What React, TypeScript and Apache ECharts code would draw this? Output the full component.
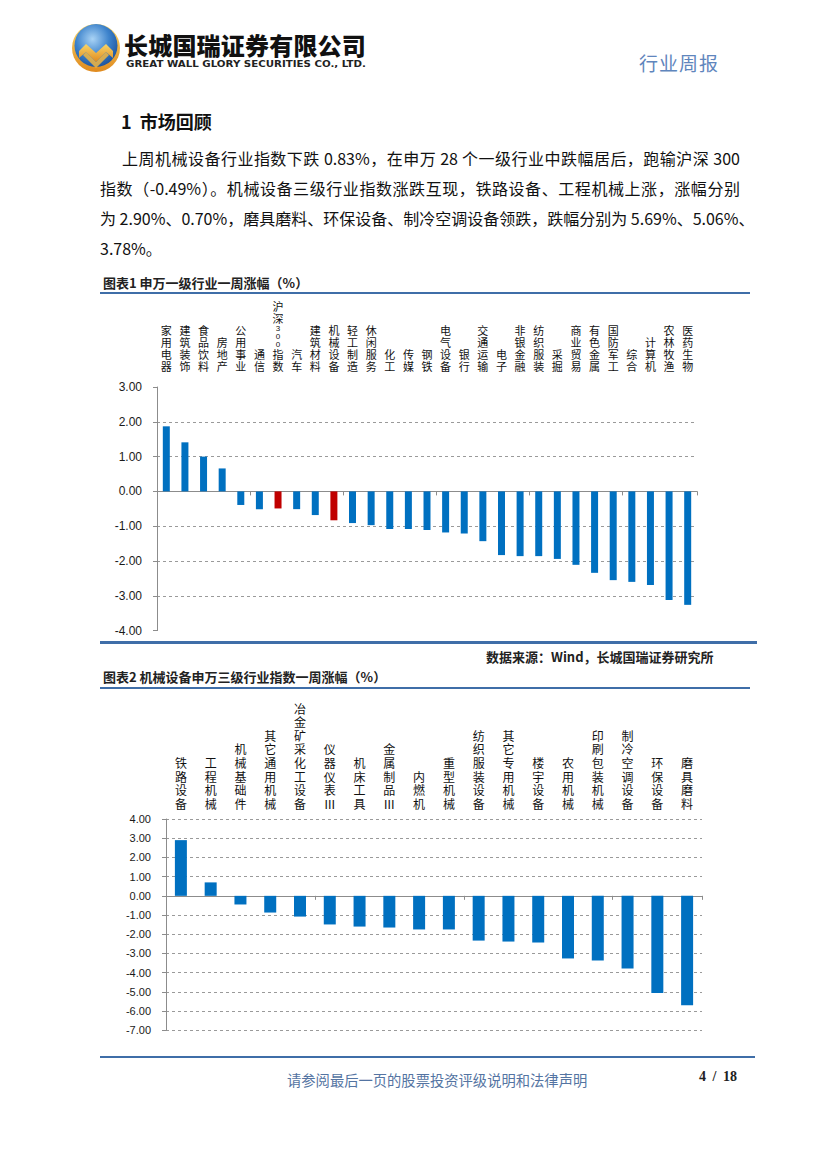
import React, { useEffect, useRef } from 'react';
import * as echarts from 'echarts';

// ---- Data: chart 1 (申万一级行业一周涨幅 %) ----
const industryNames = [
  '家用电器', '建筑装饰', '食品饮料', '房地产', '公用事业', '通信', '沪深300指数', '汽车',
  '建筑材料', '机械设备', '轻工制造', '休闲服务', '化工', '传媒', '钢铁', '电气设备',
  '银行', '交通运输', '电子', '非银金融', '纺织服装', '采掘', '商业贸易', '有色金属',
  '国防军工', '综合', '计算机', '农林牧渔', '医药生物',
];
const industryValues = [
  1.87, 1.41, 1.00, 0.66, -0.39, -0.51, -0.49, -0.51,
  -0.68, -0.83, -0.91, -0.97, -1.08, -1.08, -1.11, -1.18,
  -1.21, -1.43, -1.83, -1.86, -1.86, -1.94, -2.11, -2.34,
  -2.55, -2.60, -2.69, -3.12, -3.26,
];
const highlightedNames = ['沪深300指数', '机械设备'];
const industryAxisRange = [-4, 3];

// ---- Data: chart 2 (机械设备申万三级行业指数一周涨幅 %) ----
const subNames = [
  '铁路设备', '工程机械', '机械基础件', '其它通用机械', '冶金矿采化工设备', '仪器仪表Ⅲ',
  '机床工具', '金属制品Ⅲ', '内燃机', '重型机械', '纺织服装设备', '其它专用机械',
  '楼宇设备', '农用机械', '印刷包装机械', '制冷空调设备', '环保设备', '磨具磨料',
];
const subValues = [
  2.90, 0.70, -0.45, -0.87, -1.08, -1.49,
  -1.60, -1.65, -1.75, -1.75, -2.33, -2.38,
  -2.43, -3.26, -3.37, -3.78, -5.06, -5.69,
];
const subAxisRange = [-7, 4];

const BLUE = '#0070C0';
const RED = '#C00000';
const CJK = "'Noto Sans CJK SC', 'Noto Sans', sans-serif";
const LATIN = "'Liberation Sans', Arial, sans-serif";

const verticalLabel = (v: string) =>
  Array.from(v)
    .map((ch) => (/[0-9]/.test(ch) ? `{d|${ch}}` : ch))
    .join('\n');

function buildOption() {
  const yAxisBase = (min: number, max: number, fontSize: number, gridIndex: number, showEnds: boolean) => ({
    type: 'value',
    gridIndex,
    min,
    max,
    interval: 1,
    axisLine: { show: true, lineStyle: { color: '#8c8c8c', width: 1 } },
    axisTick: { show: true, length: 4, lineStyle: { color: '#8c8c8c' } },
    axisLabel: {
      fontSize,
      color: '#1a1a1a',
      fontFamily: LATIN,
      margin: 15,
      formatter: (v: number) => v.toFixed(2),
    },
    splitLine: {
      show: true,
      showMinLine: showEnds,
      showMaxLine: showEnds,
      lineStyle: { color: '#9a9a9a', type: [3, 3], width: 1 },
    },
  });

  return {
    animation: false,
    grid: [
      { left: 157, top: 387, width: 540, height: 243.6 },
      { left: 166, top: 819, width: 536, height: 211.3 },
    ],
    xAxis: [
      {
        type: 'category',
        gridIndex: 0,
        data: industryNames,
        position: 'top',
        axisLine: { show: false, onZero: false },
        axisTick: { show: false },
        axisLabel: {
          interval: 0,
          margin: 15,
          fontSize: 11,
          lineHeight: 12,
          color: '#111',
          fontFamily: CJK,
          formatter: verticalLabel,
          rich: { d: { fontSize: 8, lineHeight: 8, fontFamily: LATIN, color: '#111' } },
        },
      },
      {
        type: 'category',
        gridIndex: 0,
        data: industryNames,
        position: 'bottom',
        axisLine: { show: true, onZero: true, onZeroAxisIndex: 0, lineStyle: { color: '#8c8c8c' } },
        axisTick: { show: true, length: 4, lineStyle: { color: '#8c8c8c' } },
        axisLabel: { show: false },
      },
      {
        type: 'category',
        gridIndex: 1,
        data: subNames,
        position: 'top',
        axisLine: { show: false, onZero: false },
        axisTick: { show: false },
        axisLabel: {
          interval: 0,
          margin: 9,
          fontSize: 12,
          lineHeight: 13.6,
          color: '#111',
          fontFamily: CJK,
          formatter: verticalLabel,
        },
      },
      {
        type: 'category',
        gridIndex: 1,
        data: subNames,
        position: 'bottom',
        axisLine: { show: true, onZero: true, onZeroAxisIndex: 1, lineStyle: { color: '#8c8c8c' } },
        axisTick: { show: true, length: 4, lineStyle: { color: '#8c8c8c' } },
        axisLabel: { show: false },
      },
    ],
    yAxis: [
      yAxisBase(industryAxisRange[0], industryAxisRange[1], 12, 0, false),
      yAxisBase(subAxisRange[0], subAxisRange[1], 11, 1, true),
    ],
    series: [
      {
        type: 'bar',
        xAxisIndex: 0,
        yAxisIndex: 0,
        barWidth: 7,
        data: industryValues.map((v, i) => ({
          value: v,
          itemStyle: { color: highlightedNames.includes(industryNames[i]) ? RED : BLUE },
        })),
      },
      {
        type: 'bar',
        xAxisIndex: 2,
        yAxisIndex: 1,
        barWidth: 12,
        itemStyle: { color: BLUE },
        data: subValues,
      },
    ],
  };
}

const abs = (left: number, top: number, extra: React.CSSProperties = {}): React.CSSProperties => ({
  position: 'absolute',
  left,
  top,
  margin: 0,
  whiteSpace: 'nowrap',
  ...extra,
});

function Logo() {
  return (
    <svg style={{ position: 'absolute', left: 70, top: 22 }} width="52" height="52" viewBox="0 0 52 52">
      <defs>
        <radialGradient id="lg1" cx="0.42" cy="0.35" r="0.7">
          <stop offset="0" stopColor="#a9d3f5" />
          <stop offset="0.55" stopColor="#3d83cc" />
          <stop offset="1" stopColor="#1c4f98" />
        </radialGradient>
        <linearGradient id="lg2" x1="0" y1="0" x2="0" y2="1">
          <stop offset="0" stopColor="#f8d66a" />
          <stop offset="1" stopColor="#e08a1e" />
        </linearGradient>
      </defs>
      <circle cx="26" cy="26" r="24" fill="url(#lg2)" />
      <circle cx="26" cy="23.5" r="21.5" fill="url(#lg1)" />
      <polygon points="9,29 16,22 26,31 36,22 43,29 43,36 36,30 26,40 16,30 9,36" fill="url(#lg2)" />
      <polygon points="13,33 16,30 26,40 36,30 39,33 26,46" fill="#f2b640" opacity="0.85" />
    </svg>
  );
}

export default function App() {
  const ref = useRef<HTMLDivElement>(null);

  useEffect(() => {
    document.body.style.margin = '0';
    if (!ref.current) return;
    const chart = echarts.init(ref.current, undefined, { renderer: 'svg' });
    chart.setOption(buildOption() as any);
    return () => chart.dispose();
  }, []);

  const para: React.CSSProperties = {
    fontFamily: CJK,
    fontSize: 16,
    lineHeight: '30px',
    height: 30,
    color: '#111',
    textAlign: 'justify',
    textAlignLast: 'justify',
    whiteSpace: 'nowrap',
    overflow: 'visible',
  };

  return (
    <div style={{ position: 'absolute', left: 0, top: 0, width: 827, height: 1169, background: '#fff', overflow: 'hidden' }}>
      <div ref={ref} style={{ position: 'absolute', left: 0, top: 0, width: 827, height: 1169 }} />

      {/* Header */}
      <Logo />
      <div style={abs(124, 33, { fontFamily: CJK, fontWeight: 900, fontSize: 24, lineHeight: '24px', height: 24, color: '#111', letterSpacing: 0.2 })}>
        长城国瑞证券有限公司
      </div>
      <svg style={{ position: 'absolute', left: 125, top: 58 }} width="245" height="11">
        <text x="1" y="9" textLength="240" lengthAdjust="spacingAndGlyphs"
          style={{ fontFamily: "'DejaVu Sans', sans-serif", fontWeight: 700, fontSize: 8.5, fill: '#222' }}>
          GREAT WALL GLORY SECURITIES CO., LTD.
        </text>
      </svg>
      <div style={abs(639, 50, { fontFamily: CJK, fontSize: 19, lineHeight: '26px', color: '#5f86bd', letterSpacing: 1 })}>
        行业周报
      </div>

      {/* Section title and paragraph */}
      <div style={abs(121, 108, { fontFamily: CJK, fontSize: 18, fontWeight: 700, lineHeight: '26px', color: '#111' })}>
        1&nbsp;&nbsp;市场回顾
      </div>
      <div style={{ ...para, position: 'absolute', left: 122, top: 143, width: 618 }}>
        上周机械设备行业指数下跌 0.83%，在申万 28 个一级行业中跌幅居后，跑输沪深 300
      </div>
      <div style={{ ...para, position: 'absolute', left: 100, top: 173, width: 640 }}>
        指数（-0.49%）。机械设备三级行业指数涨跌互现，铁路设备、工程机械上涨，涨幅分别
      </div>
      <div style={{ ...para, position: 'absolute', left: 100, top: 203, width: 640 }}>
        为 2.90%、0.70%，磨具磨料、环保设备、制冷空调设备领跌，跌幅分别为 5.69%、5.06%、
      </div>
      <div style={{ ...para, position: 'absolute', left: 100, top: 233, textAlign: 'left', textAlignLast: 'left' }}>
        3.78%。
      </div>

      {/* Chart 1 title */}
      <div style={abs(103, 274, { fontFamily: CJK, fontSize: 13, fontWeight: 700, lineHeight: '18px', color: '#222' })}>
        图表1&nbsp;申万一级行业一周涨幅（%）
      </div>
      <div style={abs(100, 292, { width: 650, height: 2, background: '#3f6ea8' })} />
      <div style={abs(100, 641, { width: 657, height: 3, background: '#3f6ea8' })} />
      <div style={abs(486, 648, { fontFamily: CJK, fontSize: 13, fontWeight: 700, lineHeight: '18px', color: '#222' })}>
        数据来源：Wind，长城国瑞证券研究所
      </div>

      {/* Chart 2 title */}
      <div style={abs(103, 668, { fontFamily: CJK, fontSize: 13, fontWeight: 700, lineHeight: '18px', color: '#222' })}>
        图表2&nbsp;机械设备申万三级行业指数一周涨幅（%）
      </div>
      <div style={abs(100, 687, { width: 650, height: 2, background: '#3f6ea8' })} />

      {/* Footer */}
      <div style={abs(100, 1056, { width: 655, height: 2, background: '#3f6ea8' })} />
      <div style={abs(287, 1070, { fontFamily: CJK, fontSize: 14.3, lineHeight: '20px', color: '#5474a2' })}>
        请参阅最后一页的股票投资评级说明和法律声明
      </div>
      <div style={abs(699, 1068, { fontFamily: "'Liberation Serif', serif", fontSize: 14, fontWeight: 700, lineHeight: '18px', color: '#222', wordSpacing: 3 })}>
        4 / 18
      </div>
    </div>
  );
}
